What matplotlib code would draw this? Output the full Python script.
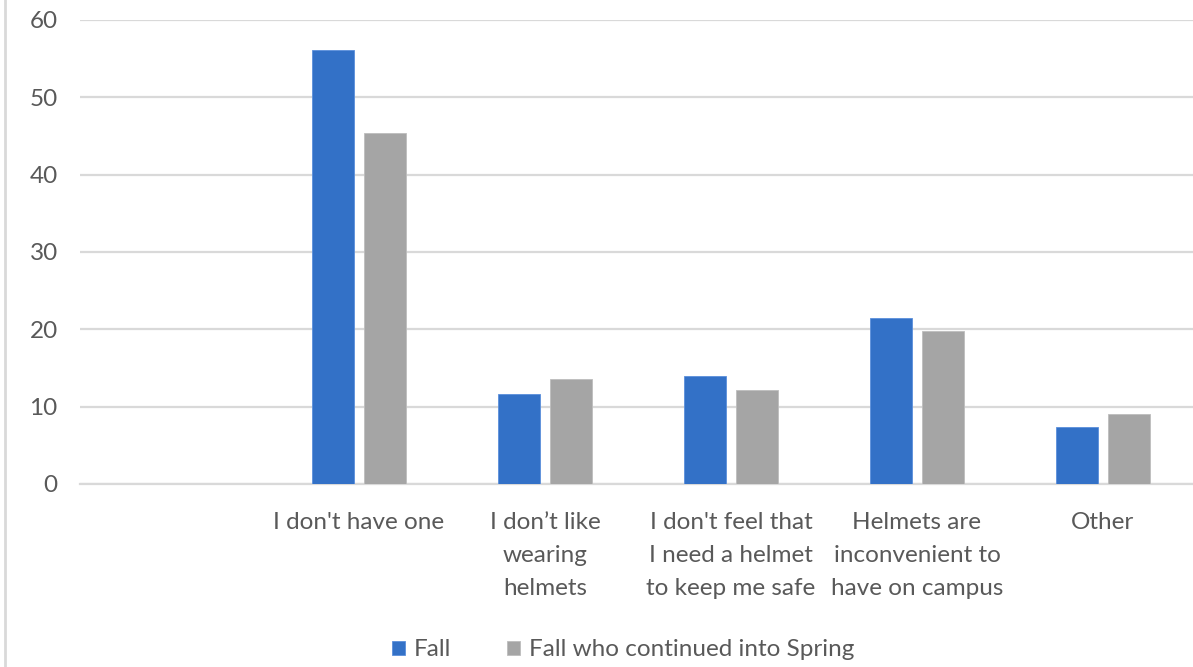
import matplotlib.pyplot as plt
import numpy as np

categories = [
    "",
    "I don't have one",
    "I don\u2019t like\nwearing\nhelmets",
    "I don't feel that\nI need a helmet\nto keep me safe",
    "Helmets are\ninconvenient to\nhave on campus",
    "Other",
]
fall = [0, 56.1, 11.7, 14.0, 21.5, 7.4]
fall_spring = [0, 45.4, 13.6, 12.1, 19.8, 9.0]
series_names = ["Fall", "Fall who continued into Spring"]
yticks = [0, 10, 20, 30, 40, 50, 60]

plt.rcParams['font.family'] = ['Lato', 'DejaVu Sans']
text_color = "#595959"
grid_color = "#d9d9d9"
fs = 17.5

fig = plt.figure(figsize=(11.93, 6.67), dpi=100)
ax = fig.add_axes([80 / 1193, 1 - 484 / 667, 1116 / 1193, 464 / 667])

x = np.arange(len(categories))
w = 0.225
off = 0.14
has_vals = [i for i in range(len(categories)) if categories[i]]
ax.bar(x[has_vals] - off, [fall[i] for i in has_vals], width=w, color="#3371C7",
       edgecolor="#5a8fdb", linewidth=0.6, zorder=3, label=series_names[0])
ax.bar(x[has_vals] + off, [fall_spring[i] for i in has_vals], width=w, color="#A5A5A5",
       edgecolor="#bdbdbd", linewidth=0.6, zorder=3, label=series_names[1])

ax.set_xlim(-0.5, len(categories) - 0.5)
ax.set_ylim(0, 60)
ax.set_yticks(yticks)
ax.yaxis.grid(True, color=grid_color, linewidth=1.6, zorder=0)
ax.set_axisbelow(True)
for s in ["top", "right", "left"]:
    ax.spines[s].set_visible(False)
ax.spines["bottom"].set_color(grid_color)
ax.spines["bottom"].set_linewidth(1.6)
ax.tick_params(axis="y", length=0, pad=16, labelsize=fs, labelcolor=text_color)
ax.tick_params(axis="x", length=0, pad=20, labelsize=fs, labelcolor=text_color)
ax.set_xticks(x)
ax.set_xticklabels(categories, linespacing=1.72, va="top")

leg = fig.legend(loc="center", bbox_to_anchor=(623 / 1193, 1 - 650 / 667), ncol=2,
                 frameon=False, fontsize=fs, handlelength=0.55, handleheight=0.55,
                 handletextpad=0.35, columnspacing=2.3, labelcolor=text_color)

# thin frame line along the left edge of the figure
fig.add_artist(plt.Line2D([5 / 1193, 5 / 1193], [0, 1], color=grid_color,
                          linewidth=2, transform=fig.transFigure))

fig.savefig("out.png", dpi=100)
